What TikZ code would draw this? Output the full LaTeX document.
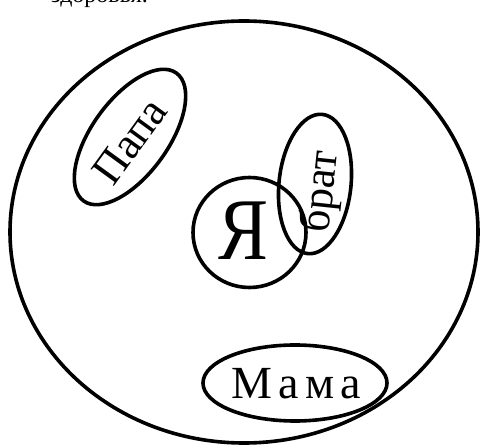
\documentclass[tikz,border=0pt]{standalone}
\usepackage{fontspec}
\setmainfont{Liberation Serif}
\newfontfamily\spacedserif[LetterSpace=14]{Liberation Serif}
\usetikzlibrary{shapes.geometric}
\begin{document}
\begin{tikzpicture}[x=1pt,y=1pt,
  ring/.style={draw, ellipse, line width=3.6pt, inner sep=0pt},
  lbl/.style={inner sep=0pt, font=\fontsize{44}{50}\selectfont}]
\useasboundingbox (0,0) rectangle (488,445);
% cropped line of text at the very top
\node[inner sep=0pt, anchor=base east, font=\fontsize{24}{28}\selectfont] (top) at (148,442) {здоровья.};
% outer family ellipse
\node[ring, minimum width=468pt, minimum height=422pt] (all) at (244,213) {};
% Papa
\node[ring, minimum width=158pt, minimum height=76pt, rotate=54] (papa) at (130,308) {};
\node[lbl, rotate=54] (papat) at (130,304) {Папа};
% brat
\node[ring, minimum width=140pt, minimum height=72pt, rotate=84] (brat) at (315,261) {};
\node[lbl, rotate=84] (bratt) at (322,253) {брат};
% Ya
\node[ring, minimum width=113pt, minimum height=110pt] (ya) at (249.5,212.5) {};
\node[inner sep=0pt, font=\fontsize{88}{90}\selectfont, xscale=0.85] (yat) at (243.5,214.5) {Я};
% Mama
\node[ring, minimum width=184pt, minimum height=76pt] (mama) at (295,62) {};
\node[inner sep=0pt, font=\spacedserif\fontsize{46}{50}\selectfont] (mamat) at (296,61) {Мама};
\end{tikzpicture}
\end{document}
